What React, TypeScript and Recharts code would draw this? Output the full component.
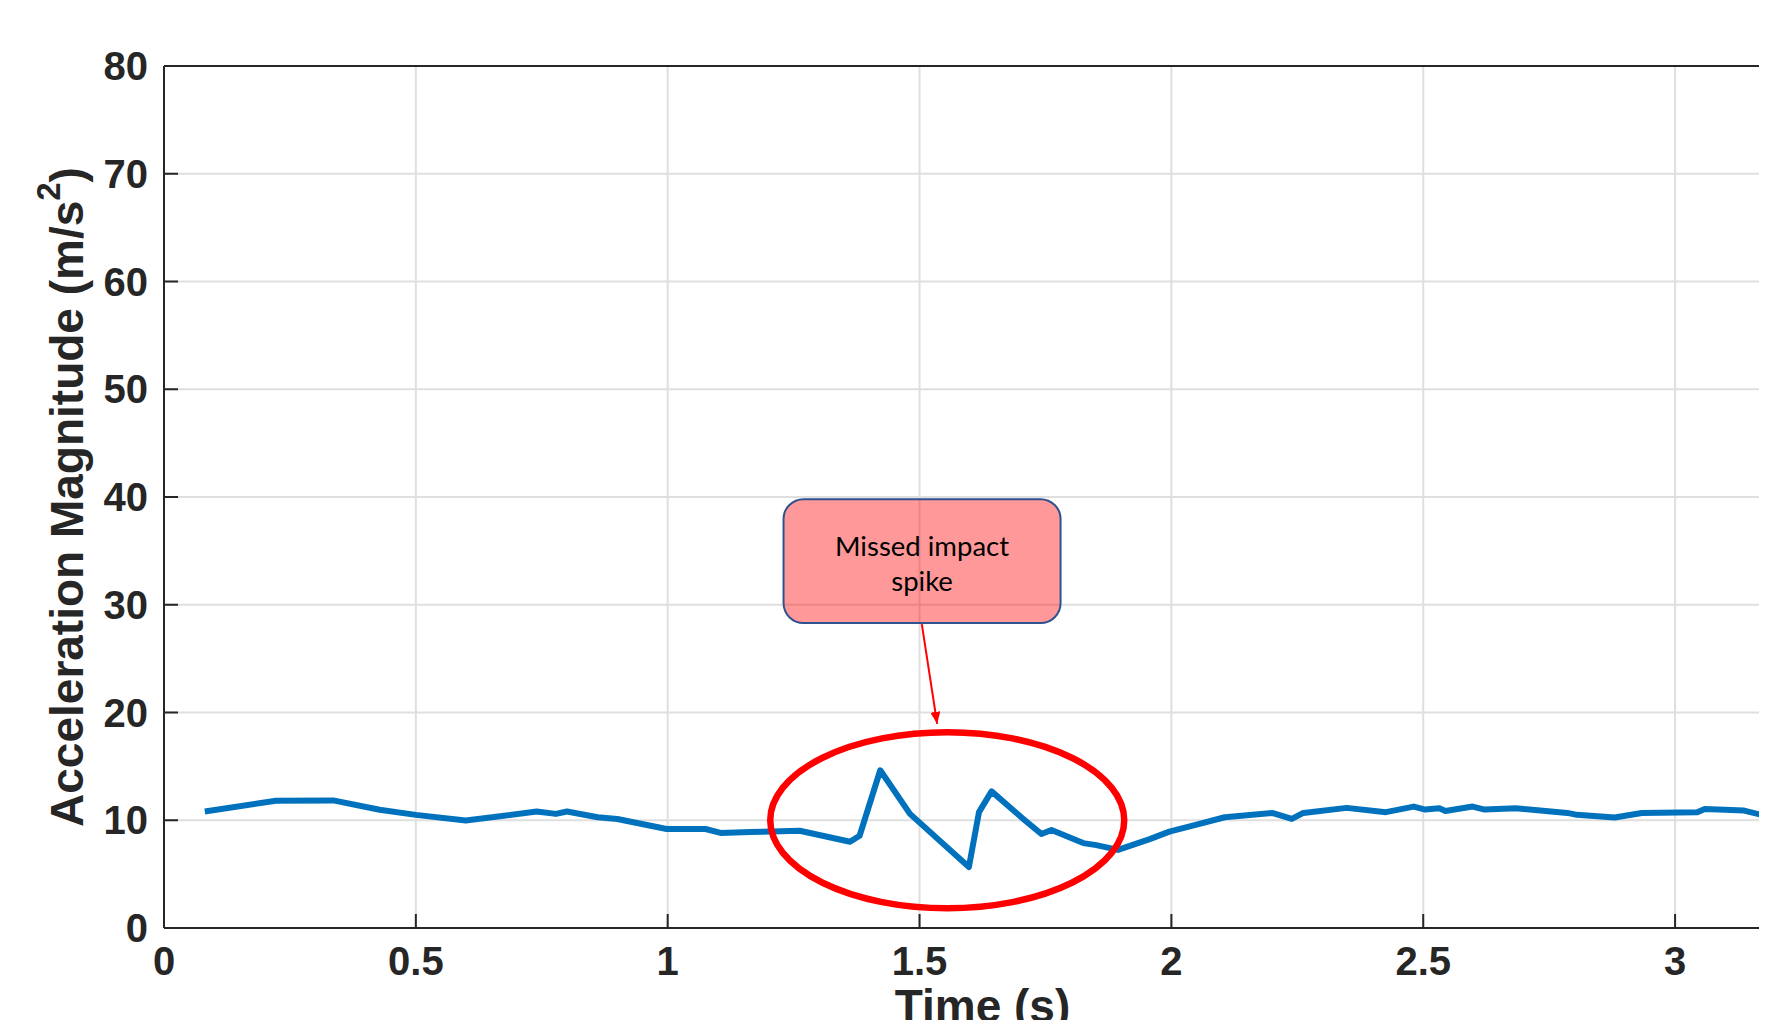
import { LineChart, Line, XAxis, YAxis, CartesianGrid, ReferenceLine, ReferenceDot, ReferenceArea } from 'recharts';

// values
const timeS = [
  0.081, 0.222, 0.336, 0.428, 0.5, 0.599, 0.74, 0.778, 0.8, 0.861, 0.9, 0.998, 1.075, 1.105, 1.164,
  1.262, 1.362, 1.381, 1.422, 1.481, 1.598, 1.618, 1.643, 1.706, 1.742, 1.762, 1.825, 1.851, 1.894,
  1.957, 1.996, 2.05, 2.106, 2.2, 2.239, 2.262, 2.348, 2.426, 2.481, 2.504, 2.532, 2.544, 2.598, 2.622,
  2.684, 2.786, 2.805, 2.88, 2.934, 3.044, 3.059, 3.137, 3.183, 3.22,
];
const accel = [
  10.81, 11.81, 11.84, 10.97, 10.5, 9.97, 10.81, 10.59, 10.81, 10.28, 10.12, 9.19, 9.19, 8.82, 8.9,
  9.03, 8.0, 8.56, 14.64, 10.59, 5.66, 10.75, 12.68, 10.12, 8.72, 9.09, 7.88, 7.69, 7.25,
  8.25, 8.94, 9.6, 10.28, 10.68, 10.12, 10.68, 11.15, 10.75, 11.27, 10.99, 11.11, 10.86, 11.27, 10.99,
  11.11, 10.68, 10.5, 10.25, 10.68, 10.74, 11.05, 10.9, 10.37, 10.1,
];
const xTicks = [0, 0.5, 1, 1.5, 2, 2.5, 3];
const yTicks = [0, 10, 20, 30, 40, 50, 60, 70, 80];

// annotation anchors (data units)
const circleCenter = { x: 1.555, y: 10 };
const calloutBox = { x1: 1.23, x2: 1.78, y1: 28.3, y2: 39.8 };
const arrowSeg = [{ x: 1.5045, y: 28.2 }, { x: 1.535, y: 18.95 }];

const data = timeS.map((t, i) => ({ t, a: accel[i] }));

const AXIS = '#262626';
const FONT = '"Liberation Sans", Arial, Helvetica, sans-serif';

function YLabel(props: any) {
  const vb = props.viewBox;
  const cx = vb.x + 67;
  const cy = vb.y + vb.height / 2;
  return (
    <text
      x={cx}
      y={cy}
      transform={`rotate(-90 ${cx} ${cy})`}
      textAnchor="middle"
      dominantBaseline="central"
      fontFamily={FONT}
      fontWeight="bold"
      fontSize={46}
      fill={AXIS}
    >
      Acceleration Magnitude (m/s<tspan dy={-19} fontSize={33}>2</tspan>
      <tspan dy={19}>)</tspan>
    </text>
  );
}

function XLabel(props: any) {
  const vb = props.viewBox;
  return (
    <text
      x={vb.x + vb.width / 2}
      y={vb.y + 94}
      textAnchor="middle"
      fontFamily={FONT}
      fontWeight="bold"
      fontSize={46}
      fill={AXIS}
    >
      Time (s)
    </text>
  );
}

export default function App() {
  return (
    <div style={{ position: 'relative', width: 1767, height: 1028, overflow: 'hidden', margin: '-8px 0 -8px -8px', background: '#fff' }}>
      <LineChart width={1830} height={1028} data={data} margin={{ top: 66, right: 29, left: 0, bottom: 0 }}>
        <CartesianGrid stroke="#DFDFDF" strokeWidth={2} />
        <XAxis
          dataKey="t"
          type="number"
          domain={[0, 3.25]}
          ticks={xTicks}
          allowDataOverflow
          height={100}
          tickSize={-14}
          tickMargin={33}
          axisLine={{ stroke: AXIS, strokeWidth: 2 }}
          tickLine={{ stroke: AXIS, strokeWidth: 2 }}
          tick={{ fill: AXIS, fontSize: 40, fontWeight: 'bold', fontFamily: FONT }}
          label={<XLabel />}
        />
        <YAxis
          type="number"
          domain={[0, 80]}
          ticks={yTicks}
          width={164}
          tickSize={-14}
          tickMargin={30}
          axisLine={{ stroke: AXIS, strokeWidth: 2 }}
          tickLine={{ stroke: AXIS, strokeWidth: 2 }}
          tick={{ fill: AXIS, fontSize: 40, fontWeight: 'bold', fontFamily: FONT }}
          label={<YLabel />}
        />
        <ReferenceLine y={80} stroke={AXIS} strokeWidth={2} />
        <Line
          type="linear"
          dataKey="a"
          stroke="#0072BD"
          strokeWidth={6}
          strokeLinejoin="round"
          dot={false}
          isAnimationActive={false}
        />
        <ReferenceArea
          x1={calloutBox.x1}
          x2={calloutBox.x2}
          y1={calloutBox.y1}
          y2={calloutBox.y2}
          ifOverflow="visible"
          shape={(p: any) => (
            <g>
              <rect x={p.x} y={p.y} width={p.width} height={p.height} rx={20} ry={20}
                fill="#FF0000" fillOpacity={0.4} stroke="#2F528F" strokeWidth={2} />
              <text x={p.x + p.width / 2} y={p.y + p.height / 2} textAnchor="middle"
                fontFamily="Lato, 'Open Sans', sans-serif" fontSize={27.5} fill="#000">
                <tspan x={p.x + p.width / 2} dy={-5}>Missed impact</tspan>
                <tspan x={p.x + p.width / 2} dy={35}>spike</tspan>
              </text>
            </g>
          )}
        />
        <ReferenceLine
          segment={arrowSeg}
          ifOverflow="visible"
          stroke="#FF0000"
          strokeWidth={2}
          shape={(p: any) => (
            <g>
              <defs>
                <marker id="redArrow" viewBox="0 0 12 10" refX={12} refY={5} markerWidth={12} markerHeight={10}
                  markerUnits="userSpaceOnUse" orient="auto">
                  <path d="M0,0 L12,5 L0,10 z" fill="#FF0000" />
                </marker>
              </defs>
              <line x1={p.x1} y1={p.y1} x2={p.x2} y2={p.y2} stroke="#FF0000" strokeWidth={2} markerEnd="url(#redArrow)" />
            </g>
          )}
        />
        <ReferenceDot
          x={circleCenter.x}
          y={circleCenter.y}
          ifOverflow="visible"
          shape={(p: any) => (
            <ellipse cx={p.cx} cy={p.cy} rx={177} ry={88} fill="none" stroke="#FF0000" strokeWidth={6.5} />
          )}
        />
      </LineChart>
    </div>
  );
}
